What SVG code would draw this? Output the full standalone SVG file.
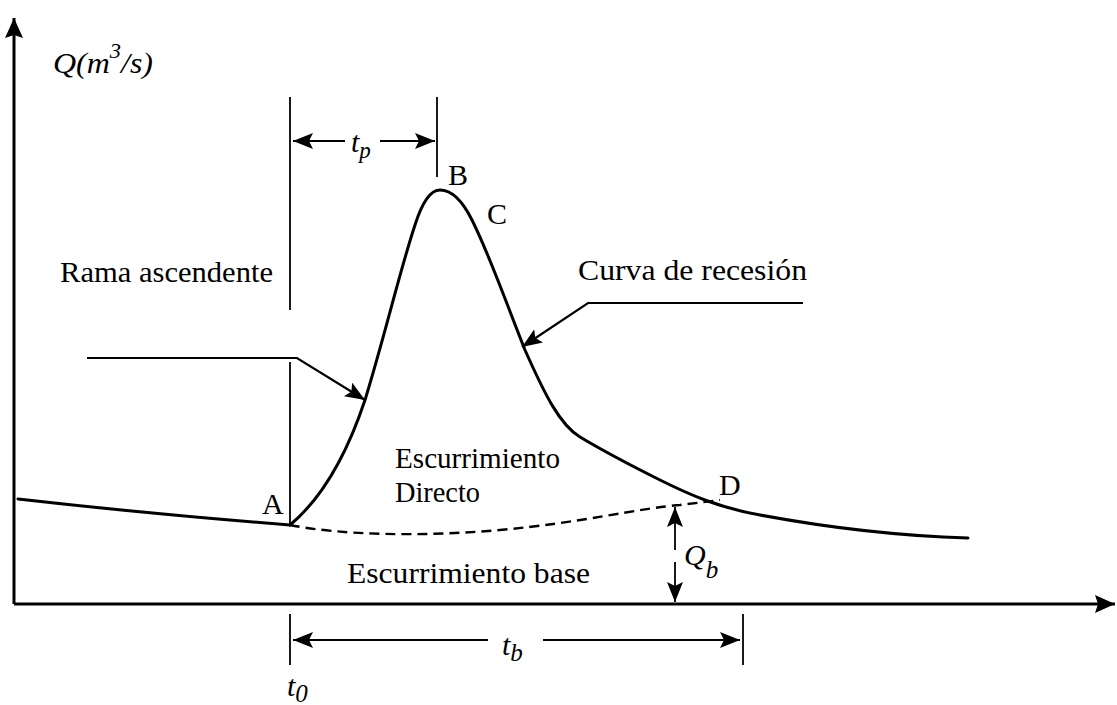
<svg xmlns="http://www.w3.org/2000/svg" width="1117" height="705" viewBox="0 0 1117 705">
<style>
text{font-family:"Liberation Serif","Times New Roman",Times,"Noto Serif",serif;fill:#000;font-size:30px}
.it{font-style:italic}
.ax{stroke:#000;stroke-width:3;fill:none}
.cv{stroke:#000;stroke-width:3;fill:none;stroke-linecap:round;stroke-linejoin:round}
.ds{stroke:#000;stroke-width:2.4;fill:none;stroke-dasharray:10,6}
.ln{stroke:#000;stroke-width:2.2;fill:none}
.tk{stroke:#000;stroke-width:1.8;fill:none}
</style>
<defs>
<marker id="ah" markerUnits="userSpaceOnUse" markerWidth="22" markerHeight="16" refX="20" refY="8" orient="auto">
<path d="M0,0 L20,8 L0,16 L4,8 Z" fill="#000"/>
</marker>
<marker id="ahBig" markerUnits="userSpaceOnUse" markerWidth="22" markerHeight="18" refX="20" refY="9" orient="auto">
<path d="M0,0 L20,9 L0,18 L3,9 Z" fill="#000"/>
</marker>
</defs>
<g id="axes">
<line class="ax" x1="14" y1="604" x2="14" y2="18" marker-end="url(#ahBig)"/>
<line class="ax" x1="14" y1="604" x2="1115" y2="604" marker-end="url(#ahBig)"/>
</g>
<g id="axis-label-q">
<text class="it" x="53" y="73" font-size="31" textLength="100" lengthAdjust="spacingAndGlyphs">Q(m<tspan font-size="21" dy="-15">3</tspan><tspan dy="15">/s)</tspan></text>
</g>
<g id="connectors">
<path class="cv" d="M18,499 Q150,514 290,525"/>
<path class="cv" d="M290,525 C320,500 345,460 365,400 C385,335 400,270 415,225 C422,203 430,190 440,190 C452,190 463,202 472,220 C490,256 505,300 525,350 C545,395 560,425 580,437 C610,455 640,470 660,480 C690,495 720,508 760,515 C830,528 900,536 968,538"/>
<path class="ds" d="M290,525 C340,535 420,537 500,530 C580,523 640,508 680,505 L720,500"/>
<line class="tk" x1="290" y1="97" x2="290" y2="310"/>
<line class="tk" x1="290" y1="362" x2="290" y2="525"/>
<line class="tk" x1="437" y1="97" x2="437" y2="177"/>
<line class="ln" x1="345" y1="141" x2="293" y2="141" marker-end="url(#ah)"/>
<line class="ln" x1="380" y1="141" x2="435" y2="141" marker-end="url(#ah)"/>
<polyline class="ln" points="87,358 297,358 365,400" marker-end="url(#ah)"/>
<polyline class="ln" points="803,303 588,303 522,347" marker-end="url(#ah)"/>
<line class="tk" x1="675" y1="550" x2="675" y2="507" marker-end="url(#ah)"/>
<line class="tk" x1="675" y1="562" x2="675" y2="602" marker-end="url(#ah)"/>
<line class="tk" x1="290" y1="614" x2="290" y2="665"/>
<line class="tk" x1="743" y1="614" x2="743" y2="665"/>
<line class="ln" x1="488" y1="640" x2="293" y2="640" marker-end="url(#ah)"/>
<line class="ln" x1="543" y1="640" x2="740" y2="640" marker-end="url(#ah)"/>
</g>
<g id="label-tp"><text class="it" x="351" y="152" font-size="31">t<tspan font-size="23" dy="6">p</tspan></text></g>
<g id="label-B"><text x="448" y="185">B</text></g>
<g id="label-C"><text x="487" y="224">C</text></g>
<g id="label-curva"><text x="578" y="280" textLength="229" lengthAdjust="spacingAndGlyphs">Curva de recesión</text></g>
<g id="label-rama"><text x="60" y="282" textLength="213" lengthAdjust="spacingAndGlyphs">Rama ascendente</text></g>
<g id="label-A"><text x="262" y="514">A</text></g>
<g id="label-directo"><text x="395" y="468" textLength="165" lengthAdjust="spacingAndGlyphs">Escurrimiento</text><text x="395" y="502" textLength="85" lengthAdjust="spacingAndGlyphs">Directo</text></g>
<g id="label-D"><text x="719" y="495">D</text></g>
<g id="label-base"><text x="347" y="583" textLength="243" lengthAdjust="spacingAndGlyphs">Escurrimiento base</text></g>
<g id="label-qb"><text class="it" x="684" y="565" font-size="33">Q<tspan font-size="25" dy="13">b</tspan></text></g>
<g id="label-tb"><text class="it" x="502" y="655" font-size="31">t<tspan font-size="25" dy="6">b</tspan></text></g>
<g id="label-t0"><text class="it" x="287" y="696" font-size="31">t<tspan font-size="25" dy="6">0</tspan></text></g>
</svg>
